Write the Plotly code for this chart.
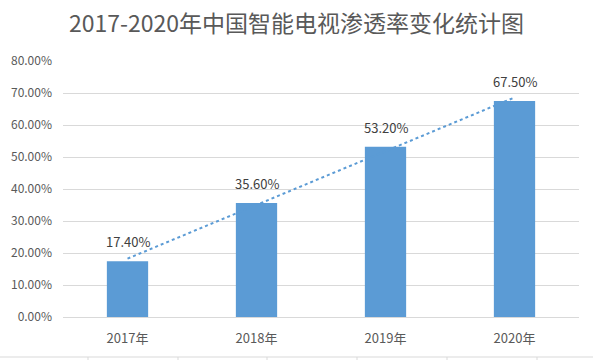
import numpy as np
import plotly.graph_objects as go

categories = ["2017年", "2018年", "2019年", "2020年"]
values = [17.4, 35.6, 53.2, 67.5]
y_ticks = [0, 10, 20, 30, 40, 50, 60, 70, 80]
y_tick_labels = [f"{v:.2f}%" for v in y_ticks]
title = "2017-2020年中国智能电视渗透率变化统计图"

# linear trendline (least squares fit of the data, like Excel)
xi = np.arange(1, len(values) + 1)
slope, intercept = np.polyfit(xi, values, 1)
trend = list(slope * xi + intercept)

FONT = "Noto Sans CJK SC, DejaVu Sans, sans-serif"
BLUE = "#5B9BD5"
GRID = "#D9D9D9"

fig = go.Figure()
fig.add_trace(go.Bar(x=categories, y=values, width=0.32, marker=dict(color=BLUE, line=dict(width=0)),
                     hoverinfo="skip", showlegend=False))
fig.add_trace(go.Scatter(x=categories, y=trend, mode="lines",
                         line=dict(color=BLUE, width=2, dash="dot"), showlegend=False, hoverinfo="skip"))

for c, v in zip(categories, values):
    fig.add_annotation(x=c, y=v, text=f"{v:.2f}%", showarrow=False, yanchor="bottom", yshift=8,
                       font=dict(family=FONT, size=13, color="#404040"))

# decorative bottom line with ticks (cut-off element)
L, R, T, B = 63, 14, 61, 43
W, H = 593 - L - R, 360 - T - B
def px(x):
    return (x - L) / W
def py(y):
    return (360 - B - y) / H
shapes = [dict(type="line", xref="paper", yref="paper", x0=px(0), x1=px(593), y0=py(357), y1=py(357),
               line=dict(color=GRID, width=1))]
for tx in [88, 178, 267, 357, 447, 537]:
    shapes.append(dict(type="line", xref="paper", yref="paper", x0=px(tx), x1=px(tx), y0=py(357), y1=py(361),
                       line=dict(color=GRID, width=1)))

fig.update_layout(
    width=593, height=360,
    margin=dict(l=L, r=R, t=T, b=B),
    paper_bgcolor="white", plot_bgcolor="white",
    title=dict(text=title, x=0.5, xref="container", xanchor="center", y=1 - 24 / 360, yanchor="middle",
               font=dict(family=FONT, size=23, color="#595959")),
    xaxis=dict(showgrid=False, showline=True, linecolor=GRID, linewidth=1, ticks="", ticklabelstandoff=9,
               tickfont=dict(family=FONT, size=13, color="#595959"), fixedrange=True),
    yaxis=dict(range=[0, 80], tickvals=y_ticks, ticktext=y_tick_labels, showgrid=True, gridcolor=GRID,
               gridwidth=1, zeroline=False, showline=False, ticks="", ticklabelstandoff=10,
               tickfont=dict(family=FONT, size=12, color="#595959"), fixedrange=True),
    bargap=0.68,
    shapes=shapes,
)
fig.write_html("out.html", config={"displayModeBar": False, "staticPlot": True},
               post_script="document.body.style.margin='0';document.body.style.padding='0';")
